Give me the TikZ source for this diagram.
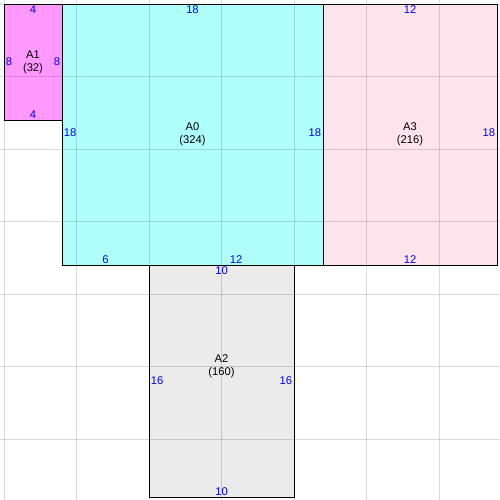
\documentclass[tikz,border=0pt]{standalone}
\usepackage{fontspec}
\setmainfont{Liberation Sans}
\definecolor{cA1}{RGB}{255,153,255}
\definecolor{cA0}{RGB}{176,255,255}
\definecolor{cA3}{RGB}{255,228,238}
\definecolor{cA2}{RGB}{235,235,235}
\definecolor{dimblue}{RGB}{0,0,255}
\tikzset{
  room/.style={draw=black, line width=0.75pt},
  gridline/.style={draw=black, draw opacity=0.15, line width=0.75pt},
  dimlab/.style={text=dimblue, font=\fontsize{8.4}{9}\selectfont, inner sep=1.2pt},
  namelab/.style={text=black, font=\fontsize{8.4}{9.75}\selectfont, align=center, inner sep=0pt},
}
\begin{document}
\begin{tikzpicture}[x=10.875pt, y=-10.875pt]
\useasboundingbox (-0.2759,-0.2759) rectangle (34.2069,34.2069);
% fills
\fill[cA1] (0,0) rectangle (4,8);
\fill[cA0] (4,0) rectangle (22,18);
\fill[cA3] (22,0) rectangle (34,18);
\fill[cA2] (10,18) rectangle (20,34);
% grid
\foreach \g in {0,5,...,30} {
  \draw[gridline] (\g,-0.2759) -- (\g,34.2069);
  \draw[gridline] (-0.2759,\g) -- (34.2069,\g);
}
% borders
\draw[room] (0,0) rectangle (4,8);
\draw[room] (4,0) rectangle (22,18);
\draw[room] (22,0) rectangle (34,18);
\draw[room] (10,18) rectangle (20,34);
% names
\node[namelab] (nA1) at (2,4.0) {A1\\(32)};
\node[namelab] (nA0) at (13,9.0) {A0\\(324)};
\node[namelab] (nA3) at (28,9.0) {A3\\(216)};
\node[namelab] (nA2) at (15,25.0) {A2\\(160)};
% A1 dims
\node[dimlab, anchor=north] (a1t) at (2,0) {4};
\node[dimlab, anchor=south] (a1b) at (2,8) {4};
\node[dimlab, anchor=west] (a1l) at (0,3.95) {8};
\node[dimlab, anchor=east] (a1r) at (4,3.95) {8};
% A0 dims
\node[dimlab, anchor=north] (a0t) at (13,0) {18};
\node[dimlab, anchor=west] (a0l) at (4,8.9) {18};
\node[dimlab, anchor=east] (a0r) at (22,8.9) {18};
\node[dimlab, anchor=south] (a0b1) at (7,18) {6};
\node[dimlab, anchor=south] (a0b2) at (16,18) {12};
% A3 dims
\node[dimlab, anchor=north] (a3t) at (28,0) {12};
\node[dimlab, anchor=south] (a3b) at (28,18) {12};
\node[dimlab, anchor=east] (a3r) at (34,8.9) {18};
% A2 dims
\node[dimlab, anchor=north] (a2t) at (15,18) {10};
\node[dimlab, anchor=south] (a2b) at (15,34) {10};
\node[dimlab, anchor=west] (a2l) at (10,26) {16};
\node[dimlab, anchor=east] (a2r) at (20,26) {16};
\end{tikzpicture}
\end{document}
